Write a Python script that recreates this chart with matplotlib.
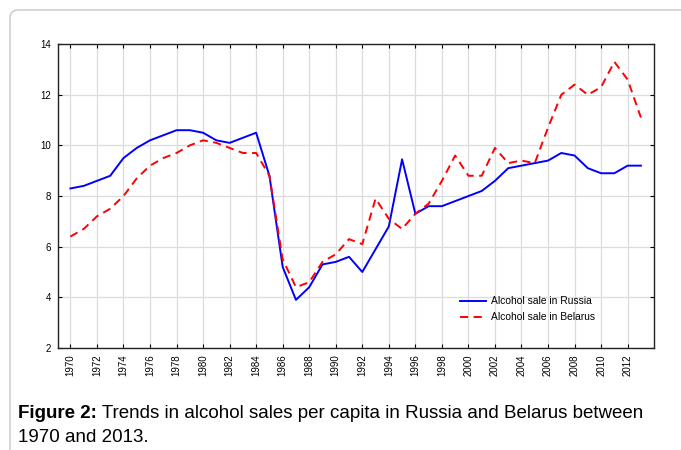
import matplotlib
matplotlib.use("Agg")
from matplotlib import pyplot as plt
from matplotlib.patches import FancyBboxPatch
import numpy as np

years = list(range(1970, 2014))

russia = [8.3, 8.4, 8.6, 8.8, 9.5, 9.9, 10.2, 10.4, 10.6, 10.6,
          10.5, 10.2, 10.1, 10.3, 10.5, 8.8, 5.2, 3.9, 4.4, 5.3,
          5.4, 5.6, 5.0, 5.9, 6.8, 9.45, 7.3, 7.6, 7.6, 7.8,
          8.0, 8.2, 8.6, 9.1, 9.2, 9.3, 9.4, 9.7, 9.6, 9.1,
          8.9, 8.9, 9.2, 9.2]

belarus = [6.4, 6.7, 7.2, 7.5, 8.0, 8.7, 9.2, 9.5, 9.7, 10.0,
           10.2, 10.1, 9.9, 9.7, 9.7, 8.8, 5.5, 4.4, 4.6, 5.4,
           5.7, 6.3, 6.1, 7.9, 7.1, 6.7, 7.3, 7.7, 8.6, 9.6,
           8.8, 8.8, 9.9, 9.3, 9.4, 9.3, 10.7, 12.0, 12.4, 12.0,
           12.3, 13.3, 12.6, 11.1]

legend_labels = ["Alcohol sale in Russia", "Alcohol sale in Belarus"]
caption_bold = "Figure 2:"
caption_rest = " Trends in alcohol sales per capita in Russia and Belarus between"
caption_line2 = "1970 and 2013."

plt.rcParams['font.family'] = ['Liberation Sans', 'DejaVu Sans']

fig = plt.figure(figsize=(6.81, 4.5), dpi=100)

# light rounded frame around the whole figure
frame = FancyBboxPatch((10, -20), 700, 460, boxstyle="round,pad=0,rounding_size=8",
                       transform=None, facecolor="none", edgecolor="#c8c8c8",
                       linewidth=1.0, zorder=-10)
fig.patches.append(frame)

ax = fig.add_axes([0.0849, 0.2267, 0.8751, 0.6753])
ax.plot(years, russia, color="#0000ff", lw=1.4, label=legend_labels[0], zorder=3)
ax.plot(years, belarus, color="#ff0000", lw=1.4, dashes=(4.2, 2.8), label=legend_labels[1], zorder=3)

ax.set_xlim(1969.05, 2013.97)
ax.set_ylim(2, 14)
ax.set_xticks(range(1970, 2013, 2))
ax.set_yticks(range(2, 15, 2))
ax.tick_params(axis="x", labelrotation=90, labelsize=7, direction="in",
               top=True, length=3, width=0.8, pad=4.5)
ax.tick_params(axis="y", labelsize=7, direction="in", right=True,
               length=3, width=0.8, pad=5)
ax.grid(True, color="#dcdcdc", lw=0.9, zorder=0)
for s in ax.spines.values():
    s.set_linewidth(1.0)
    s.set_color("#222222")

ax.legend(loc="upper left", bbox_to_anchor=(0.66, 0.20), frameon=False,
          fontsize=7.4, handlelength=2.45, handletextpad=0.5, labelspacing=0.55)

t = fig.text(18 / 681, 1 - 413 / 450, caption_bold, fontsize=13.5, fontweight="bold",
             va="center", ha="left")
fig.canvas.draw()
bb = t.get_window_extent()
fig.text(bb.x1 / 681, 1 - 413 / 450, caption_rest, fontsize=13.5, va="center", ha="left")
fig.text(18 / 681, 1 - 437 / 450, caption_line2, fontsize=13.5, va="center", ha="left")

fig.savefig("out.png", dpi=100)
